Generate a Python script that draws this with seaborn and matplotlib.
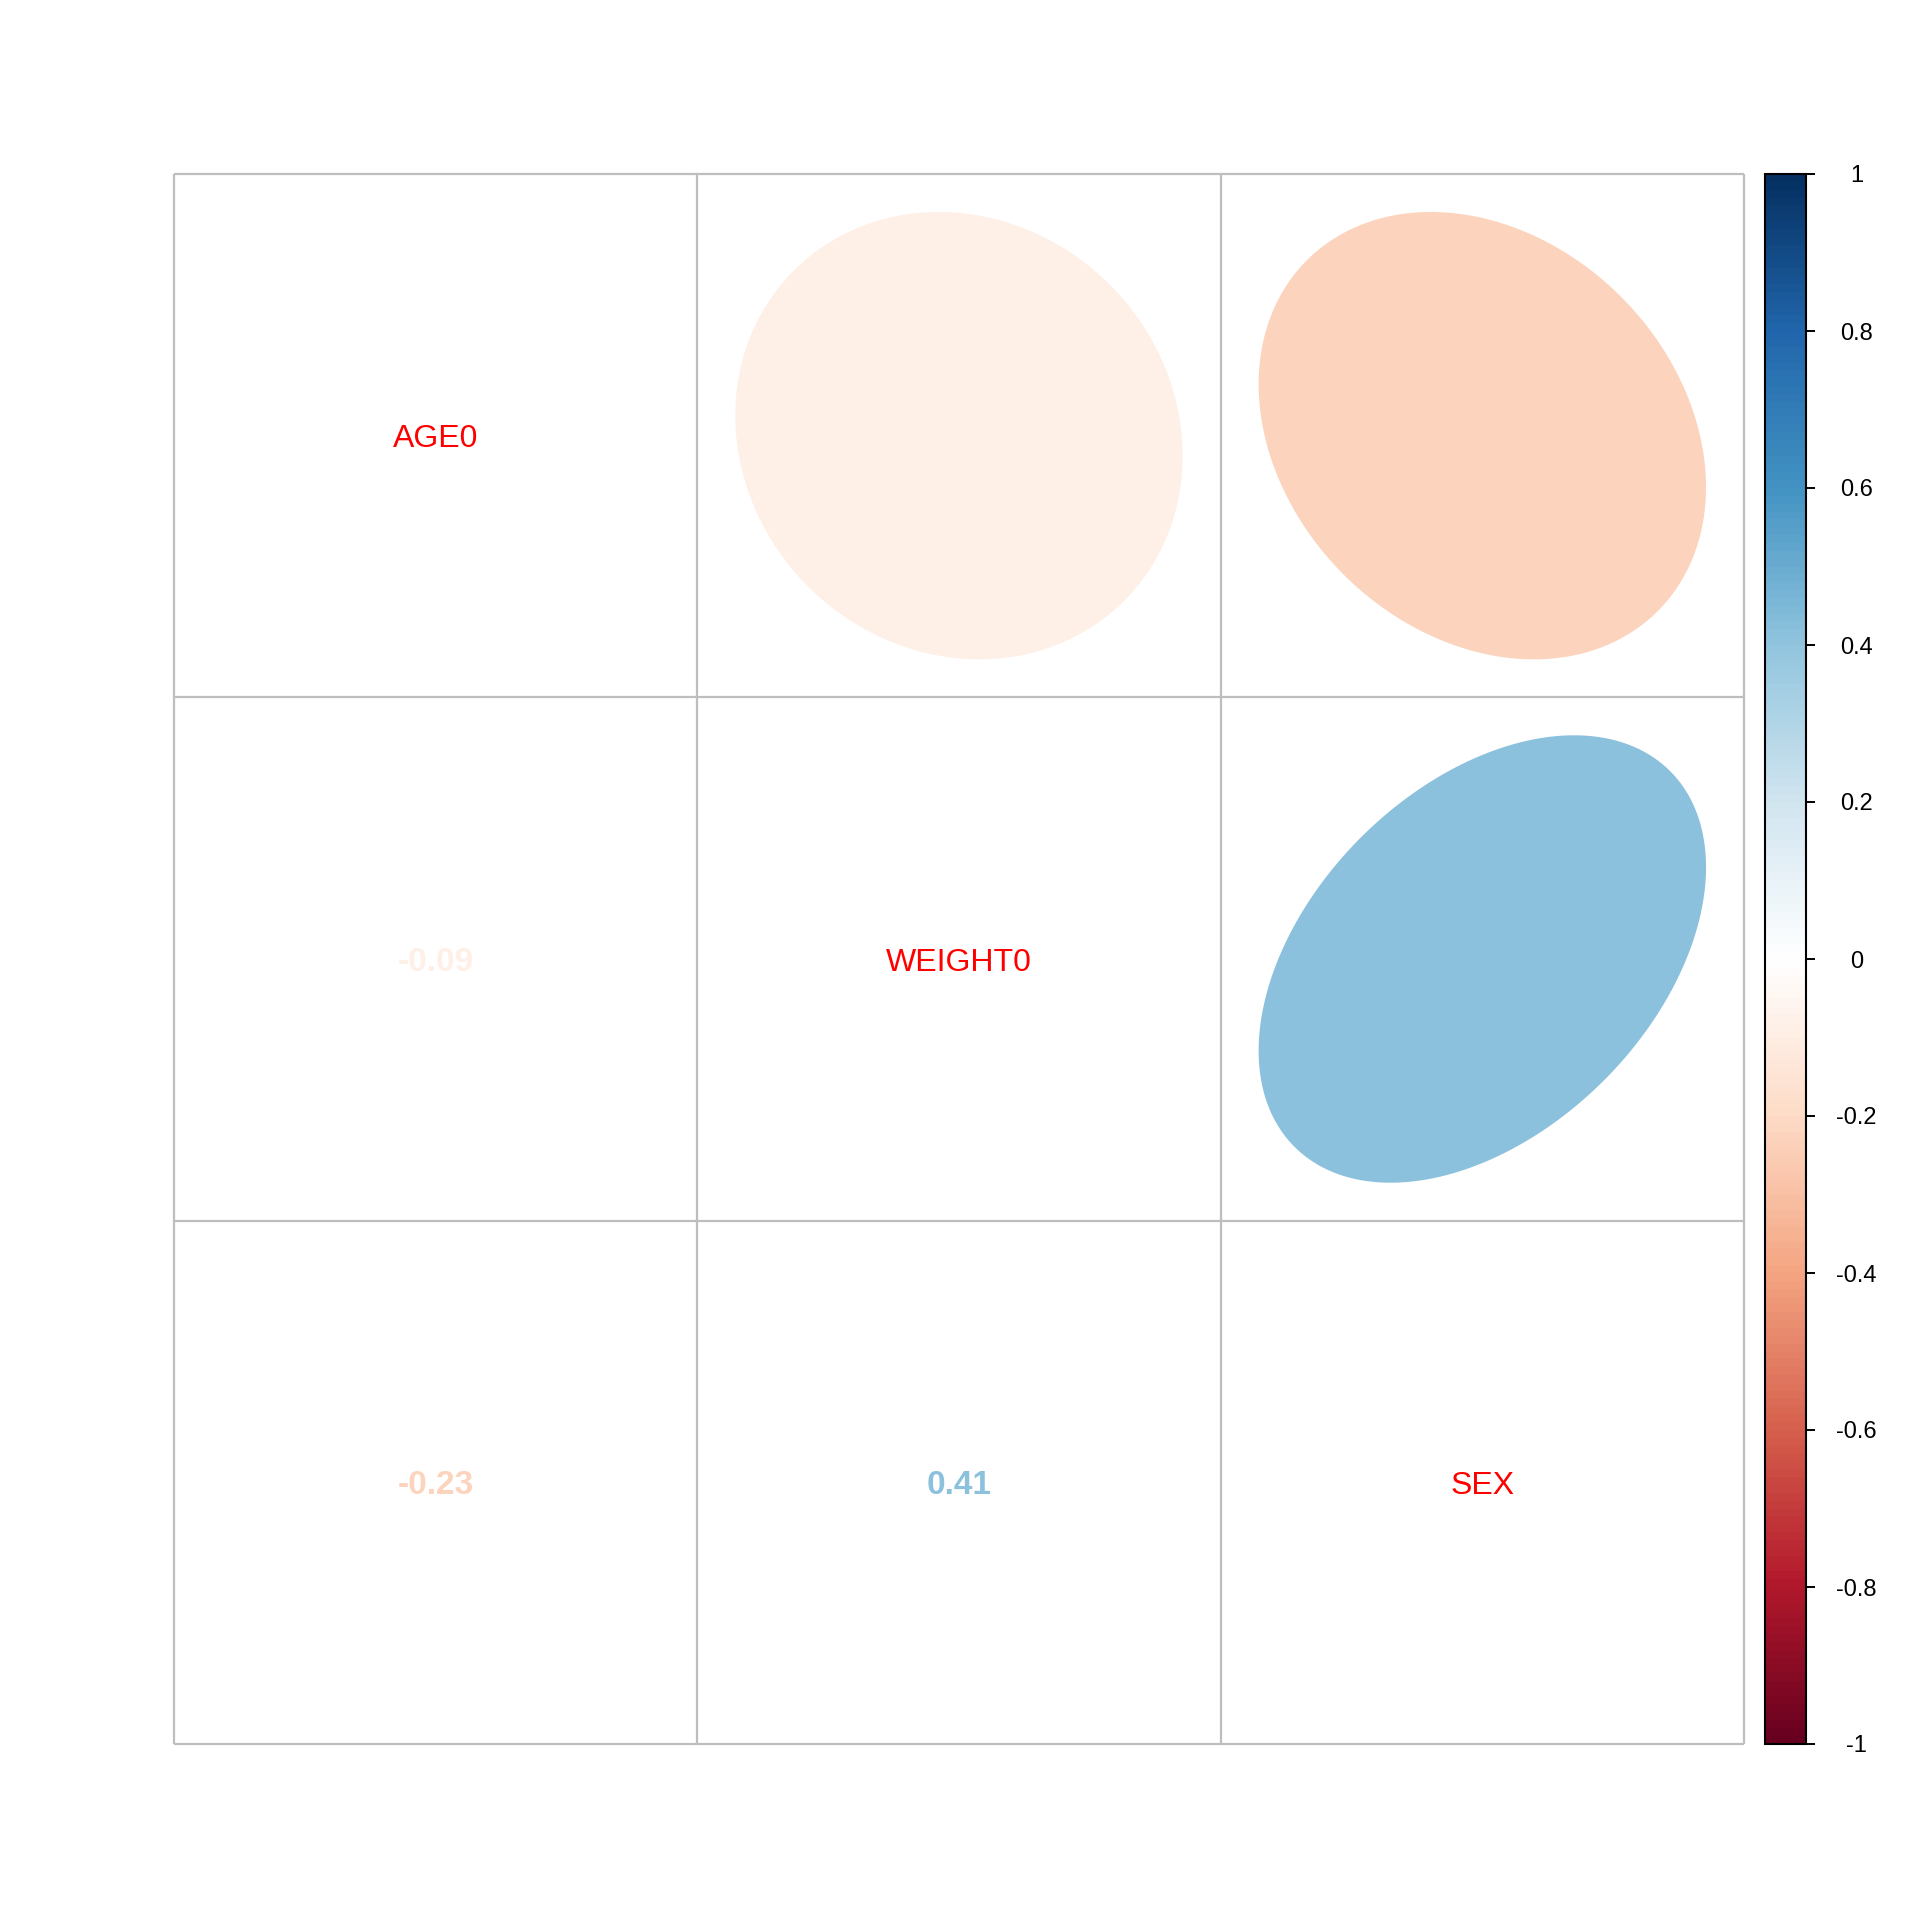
import numpy as np
import pandas as pd
import seaborn as sns
import matplotlib.pyplot as plt
from matplotlib.colors import LinearSegmentedColormap

# variables and pairwise correlations
names = ["AGE0", "WEIGHT0", "SEX"]
r_age_weight = -0.09
r_age_sex = -0.23
r_weight_sex = 0.41

corr = pd.DataFrame(
    [[1.0, r_age_weight, r_age_sex],
     [r_age_weight, 1.0, r_weight_sex],
     [r_age_sex, r_weight_sex, 1.0]],
    index=names, columns=names)

cbar_ticks = [-1, -0.8, -0.6, -0.4, -0.2, 0, 0.2, 0.4, 0.6, 0.8, 1]
cbar_labels = ["-1", "-0.8", "-0.6", "-0.4", "-0.2", "0", "0.2", "0.4", "0.6", "0.8", "1"]

# corrplot style RdBu palette, 200 steps
rdbu = ["#67001F", "#B2182B", "#D6604D", "#F4A582", "#FDDBC7", "#FFFFFF",
        "#D1E5F0", "#92C5DE", "#4393C3", "#2166AC", "#053061"]
cmap = LinearSegmentedColormap.from_list("corr", rdbu, N=200)

sns.set_theme(style="white")
plt.rcParams["font.family"] = ["Liberation Sans", "DejaVu Sans"]

fig = plt.figure(figsize=(19.2, 19.2), dpi=100)
ax = fig.add_axes([174 / 1920, 176 / 1920, 1570 / 1920, 1570 / 1920])
cax = fig.add_axes([1765 / 1920, 176 / 1920, 41 / 1920, 1570 / 1920])

# all cells masked: blank grid, the heatmap supplies scales and colorbar
sns.heatmap(corr, mask=np.ones(corr.shape, dtype=bool), cmap=cmap,
            vmin=-1, vmax=1, ax=ax, cbar_ax=cax, square=False)

n = len(names)
ax.set_xticks([])
ax.set_yticks([])
ax.set_xlim(0, n)
ax.set_ylim(n, 0)

grid_col = "#BEBEBE"
ax.hlines(range(n + 1), 0, n, color=grid_col, lw=1.6, clip_on=False, zorder=1)
ax.vlines(range(n + 1), 0, n, color=grid_col, lw=1.6, clip_on=False, zorder=1)

t = np.linspace(0, 2 * np.pi, 200)
scale = 0.855
for i in range(n):
    for j in range(n):
        r = corr.iloc[i, j]
        cx, cy = j + 0.5, i + 0.5
        if i == j:
            ax.text(cx, cy + 0.007, names[i], color="#FF0000", fontsize=23,
                    ha="center", va="center")
        elif j > i:
            a = np.arccos(r)
            ex = cx + 0.5 * scale * np.cos(t + a / 2)
            ey = cy - 0.5 * scale * np.cos(t - a / 2)
            ax.fill(ex, ey, color=cmap((r + 1) / 2), lw=0, zorder=2)
        else:
            ax.text(cx, cy + 0.007, f"{r:.2f}", color=cmap((r + 1) / 2), fontsize=24,
                    fontweight="bold", ha="center", va="center")

# colorbar styling
cb = ax.collections[0].colorbar
cb.set_ticks(cbar_ticks)
cb.set_ticklabels(cbar_labels)
cb.outline.set_edgecolor("black")
cb.outline.set_linewidth(1.5)
cax.yaxis.set_ticks_position("right")
cax.tick_params(axis="y", length=6.5, width=1.4, color="black", pad=30,
                labelsize=17, labelcolor="black")
for lab in cax.get_yticklabels():
    lab.set_horizontalalignment("center")

fig.savefig("out.png", dpi=100, facecolor="white")
